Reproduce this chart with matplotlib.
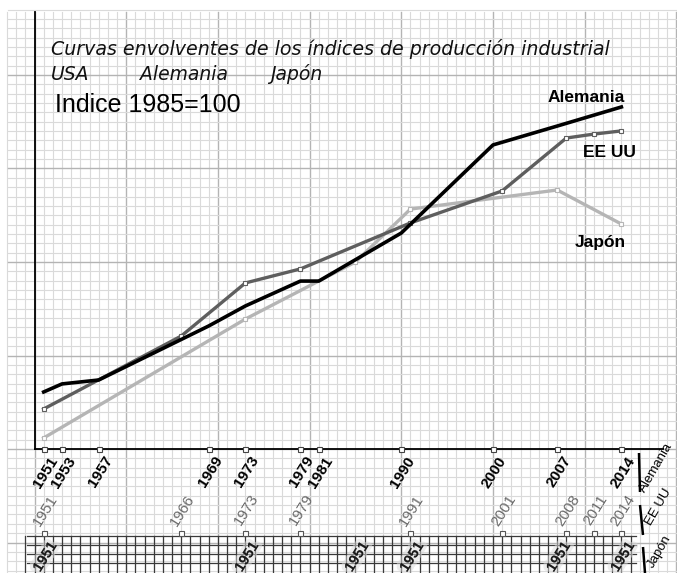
import matplotlib
matplotlib.use("Agg")
import matplotlib.pyplot as plt
import matplotlib.patheffects as pe
import numpy as np

# ---- data (index 1985 = 100) ----
de_years = [1951, 1953, 1957, 1969, 1973, 1979, 1981, 1990, 2000, 2007, 2014]
de_values = [30.5, 34.8, 36.9, 65.8, 76.5, 89.8, 89.8, 115.5, 162.6, 172.7, 182.9]

us_years = [1951, 1966, 1973, 1979, 1991, 2001, 2008, 2011, 2014]
us_values = [21.4, 60.4, 88.8, 96.3, 120.9, 138.0, 166.3, 168.4, 170.1]

jp_years = [1951, 1973, 1985, 1991, 2007, 2014]
jp_values = [5.9, 69.5, 100.0, 128.3, 138.5, 120.3]

de_tick_labels = ["1951", "1953", "1957", "1969", "1973", "1979", "1981",
                  "1990", "2000", "2007", "2014"]
us_tick_labels = ["1951", "1966", "1973", "1979", "1991", "2001", "2008",
                  "2011", "2014"]
jp_tick_labels = ["1951", "1951", "1951", "1951", "1951", "1951"]

# ---- page geometry: one year per small square horizontally, 5 index
# points per small square vertically ----
W, H = 677, 573
YEAR_PX = 9.17
UNIT_PX = 1.87
AXIS_Y_PX = 449          # horizontal axis, from the top
AXIS_X_PX = 34.5         # vertical axis (year 1950)
X0 = 1950 - AXIS_X_PX / YEAR_PX
X1 = X0 + W / YEAR_PX
Y0 = -(H - AXIS_Y_PX) / UNIT_PX
Y1 = AXIS_Y_PX / UNIT_PX


def px(x, y):
    """page pixel -> data coordinates"""
    return X0 + x / YEAR_PX, (AXIS_Y_PX - y) / UNIT_PX


fig = plt.figure(figsize=(W / 100, H / 100), dpi=100)
ax = fig.add_axes([0, 0, 1, 1])
ax.set_xlim(X0, X1)
ax.set_ylim(Y0, Y1)
ax.axis("off")

# ---- squared paper ----
gx_left, gy_top = px(8, 12)
gx_right, gy_bottom = px(W, H)
for yr in range(1947, 2021):
    major = (yr % 10 == 0)
    ax.plot([yr, yr], [gy_bottom, gy_top], color="#b4b4b4" if major else "#dadada",
            lw=1.0 if major else 0.8, zorder=1)
for v in np.arange(-65, 240, 5):
    major = (v % 50 == 0)
    ax.plot([gx_left, gx_right], [v, v], color="#b4b4b4" if major else "#dadada",
            lw=1.0 if major else 0.8, zorder=1)

# darker squared strip behind the Japan row
sx0, _ = px(27, 0)
sx1, _ = px(636, 0)
_, sy_top = px(0, 536)
_, sy_bot = px(0, H)
for yr in range(1949, 2016):
    ax.plot([yr, yr], [sy_bot, sy_top], color="#3a3a3a", lw=0.9, zorder=2)
for ypx in [536, 544.5, 554, 562.5]:
    _, yy = px(0, ypx)
    ax.plot([sx0, sx1], [yy, yy], color="#3a3a3a", lw=0.9, zorder=2)

# ---- axes ----
_, ytop = px(0, 12)
xend, _ = px(663, 0)
ax.plot([1950, 1950], [0, ytop], color="black", lw=1.3, zorder=3)
ax.plot([1950, xend], [0, 0], color="black", lw=1.3, zorder=3)

# ---- curves ----
ax.plot(jp_years, jp_values, color="#b5b5b5", lw=2.4, zorder=4,
        marker="s", ms=3.2, mfc="white", mec="#b5b5b5", mew=0.8,
        solid_joinstyle="round")
ax.plot(us_years, us_values, color="#5e5e5e", lw=2.4, zorder=5,
        marker="s", ms=3.2, mfc="white", mec="#5e5e5e", mew=0.8,
        solid_joinstyle="round")
ax.plot(de_years, de_values, color="black", lw=2.6, zorder=6,
        solid_joinstyle="round")

# ---- year rows under the axis ----
ax.plot(de_years, [0] * len(de_years), ls="none", marker="s", ms=3.6,
        mfc="white", mec="#444444", mew=0.8, zorder=7)
_, us_row = px(0, 533)
ax.plot(us_years, [us_row] * len(us_years), ls="none", marker="s", ms=3.6,
        mfc="white", mec="#555555", mew=0.8, zorder=7)

_, de_lab_y = px(0, 472)
_, us_lab_y = px(0, 510)
_, jp_lab_y = px(0, 557)
dx = 1.5 / YEAR_PX
for yr, lab in zip(de_years, de_tick_labels):
    ax.text(yr + dx, de_lab_y, lab, rotation=58, ha="center", va="center",
            fontsize=11, fontweight="bold", family="Liberation Sans",
            color="black", zorder=8)
for yr, lab in zip(us_years, us_tick_labels):
    ax.text(yr + dx, us_lab_y, lab, rotation=58, ha="center", va="center",
            fontsize=11, family="Liberation Sans", color="#6a6a6a", zorder=8)
halo = [pe.withStroke(linewidth=5, foreground="#dcdcdc", alpha=0.5)]
for yr, lab in zip(jp_years, jp_tick_labels):
    ax.text(yr + dx, jp_lab_y, lab, rotation=58, ha="center", va="center",
            fontsize=10.5, fontweight="bold", family="Liberation Sans",
            color="#1a1a1a", zorder=8, path_effects=halo)

# row captions at the right edge with their separator strokes
for (x_a, y_a, x_b, y_b) in [(639, 453, 640, 492), (640, 505, 643, 535),
                             (643, 547, 645, 573)]:
    p, q = px(x_a, y_a), px(x_b, y_b)
    ax.plot([p[0], q[0]], [p[1], q[1]], color="black", lw=1.8, zorder=8,
            solid_capstyle="butt")
for name, (x_p, y_p) in [("Alemania", (645, 493)), ("EE UU", (651, 526)),
                         ("Japón", (653, 568))]:
    xx, yy = px(x_p, y_p)
    ax.text(xx, yy, name, rotation=60, rotation_mode="anchor", ha="left",
            va="baseline", fontsize=9.5, family="Liberation Sans",
            color="black", zorder=8)

# ---- titles ----
tx, ty = px(51, 55)
ax.text(tx, ty, "Curvas envolventes de los índices de producción industrial",
        fontsize=13.7, family="DejaVu Sans", style="oblique", color="#111111",
        ha="left", va="baseline", zorder=9)
for word, xp in [("USA", 51), ("Alemania", 140), ("Japón", 270)]:
    wx, wy = px(xp, 80)
    ax.text(wx, wy, word, fontsize=13.5, family="DejaVu Sans", style="oblique",
            color="#111111", ha="left", va="baseline", zorder=9)
ix, iy = px(55, 112)
ax.text(ix, iy, "Indice 1985=100", fontsize=18, family="Liberation Sans",
        color="black", ha="left", va="baseline", zorder=9)

# ---- curve names ----
for name, (x_p, y_p) in [("Alemania", (548, 102)), ("EE UU", (583, 157)),
                         ("Japón", (575, 247))]:
    nx, ny = px(x_p, y_p)
    ax.text(nx, ny, name, fontsize=12.5, fontweight="bold",
            family="Liberation Sans", color="black", ha="left",
            va="baseline", zorder=9)

fig.savefig("out.png", dpi=100, facecolor="white")
